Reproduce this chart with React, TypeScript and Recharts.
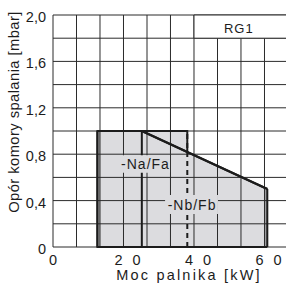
import React from 'react';
import {
  ComposedChart,
  Area,
  XAxis,
  YAxis,
  CartesianGrid,
  ReferenceLine,
  ReferenceArea,
  Label,
} from 'recharts';

const FONT = '"Liberation Sans", Arial, Helvetica, sans-serif';
const INK = '#1c1c1c';
const GRID = '#2b2b2b';
const FILL = '#dcdcdf';
const SHADE = '#9c9c9f';

// Burner power [kW] and combustion-chamber resistance [mbar]
const naFaPower = [12.6, 38.1];
const naFaResistance = [1.0, 1.0];
const nbFbPower = [25.2, 60.8];
const nbFbResistance = [1.0, 0.5];
const dashedPower = 38.1;

const xGridTicks = [0, 6.67, 13.33, 20, 26.67, 33.33, 40, 46.67, 53.33, 60, 66.67];
const xLabelTicks = [0, 20, 40, 60];
const yGridTicks = [0, 0.2, 0.4, 0.6, 0.8, 1.0, 1.2, 1.4, 1.6, 1.8, 2.0];
const yLabelTicks = [0, 0.4, 0.8, 1.2, 1.6, 2.0];
const xDomain = [0, 66.67];
const yDomain = [0, 2];

const nbFbData = nbFbPower.map((p, i) => ({ power: p, nbFb: nbFbResistance[i] }));

const near = (list: number[], v: number) => list.some((t) => Math.abs(t - v) < 0.01);

const XTick = (props: any) => {
  const { x, y, payload } = props;
  const v = payload.value;
  if (!near(xLabelTicks, v)) return <g />;
  const base = y + 10;
  if (v === 0) {
    return (
      <text x={x} y={base} textAnchor="middle" fontFamily={FONT} fontSize={14.5} fill={INK}>
        0
      </text>
    );
  }
  const chars = String(Math.round(v)).split('');
  return (
    <text x={x - 9} y={base} textAnchor="start" fontFamily={FONT} fontSize={14.5} fill={INK}>
      {chars.map((c, i) => (
        <tspan key={i} dx={i === 0 ? 0 : 10}>
          {c}
        </tspan>
      ))}
    </text>
  );
};

const YTick = (props: any) => {
  const { x, y, payload } = props;
  const v = payload.value;
  if (!near(yLabelTicks, v)) return <g />;
  const txt = v === 0 ? '0' : v.toFixed(1).replace('.', ',');
  return (
    <text x={x + 1} y={y + 7} textAnchor="end" fontFamily={FONT} fontSize={14.5} fill={INK}>
      {txt}
    </text>
  );
};

const centerLabel = (text: string, size: number, spacing: number) => (props: any) => {
  const vb = props.viewBox;
  if (!vb) return null;
  const cx = vb.x + vb.width / 2 + spacing / 2;
  const cy = vb.y + vb.height / 2;
  return (
    <text x={cx} y={cy} dy="0.36em" textAnchor="middle" fontFamily={FONT} fontSize={size} fill={INK} letterSpacing={spacing}>
      {text}
    </text>
  );
};

const rgLabel = (props: any) => {
  const vb = props.viewBox;
  if (!vb) return null;
  return (
    <text x={vb.x + 30} y={vb.y + vb.height / 2 + 1.4} dy="0.36em" textAnchor="start" fontFamily={FONT} fontSize={13} fill={INK} letterSpacing={1}>
      RG1
    </text>
  );
};

const yAxisTitle = (props: any) => {
  const vb = props.viewBox;
  if (!vb) return null;
  const x = vb.x + 14;
  const y = vb.y + 97;
  return (
    <text
      x={x}
      y={y}
      transform={`rotate(-90, ${x}, ${y})`}
      textAnchor="middle"
      dy="0.36em"
      fontFamily={FONT}
      fontSize={14.8}
      letterSpacing={0.4}
      fill={INK}
    >
      Opór komory spalania [mbar]
    </text>
  );
};

const xAxisTitle = (props: any) => {
  const vb = props.viewBox;
  if (!vb) return null;
  return (
    <text x={vb.x + 136} y={vb.y + 33} textAnchor="middle" fontFamily={FONT} fontSize={14.5} letterSpacing={2.2} fill={INK}>
      Moc palnika [kW]
    </text>
  );
};

export default function App() {
  return (
    <div style={{ position: 'absolute', left: 0, top: 0, width: 286, height: 284, overflow: 'hidden', background: '#fff' }}>
      <ComposedChart width={288} height={284} data={nbFbData} margin={{ top: 15, right: 0, bottom: 0, left: 0 }}>
        <XAxis
          dataKey="power"
          type="number"
          domain={xDomain}
          ticks={xGridTicks}
          interval={0}
          tick={<XTick />}
          tickLine={false}
          axisLine={false}
          height={37}
          allowDataOverflow
        >
          <Label content={xAxisTitle} />
        </XAxis>
        <YAxis
          type="number"
          domain={yDomain}
          ticks={yGridTicks}
          interval={0}
          tick={<YTick />}
          tickLine={false}
          axisLine={false}
          width={53}
          allowDataOverflow
        >
          <Label content={yAxisTitle} />
        </YAxis>

        <ReferenceArea
          x1={naFaPower[0]}
          x2={naFaPower[1]}
          y1={0}
          y2={naFaResistance[0]}
          fill={FILL}
          fillOpacity={1}
          stroke={INK}
          strokeWidth={2}
          zIndex={10}
        />
        <Area
          dataKey="nbFb"
          type="linear"
          baseValue={0}
          fill={FILL}
          fillOpacity={1}
          stroke={INK}
          strokeWidth={2}
          isAnimationActive={false}
          dot={false}
          activeDot={false}
          zIndex={30}
        />
        <ReferenceArea x1={naFaPower[0]} x2={naFaPower[0] + 0.7} y1={0} y2={naFaResistance[0]} fill={SHADE} fillOpacity={1} stroke="none" zIndex={35} />
        <ReferenceArea x1={nbFbPower[1] - 0.7} x2={nbFbPower[1]} y1={0} y2={nbFbResistance[1]} fill={SHADE} fillOpacity={1} stroke="none" zIndex={35} />

        <CartesianGrid stroke={GRID} strokeWidth={1} zIndex={40} />

        <ReferenceLine segment={[{ x: naFaPower[0], y: 0 }, { x: naFaPower[0], y: naFaResistance[0] }]} stroke={INK} strokeWidth={2} zIndex={60} />
        <ReferenceLine segment={[{ x: naFaPower[0], y: naFaResistance[0] }, { x: naFaPower[1], y: naFaResistance[1] }]} stroke={INK} strokeWidth={2} zIndex={60} />
        <ReferenceLine segment={[{ x: nbFbPower[0], y: 0 }, { x: nbFbPower[0], y: nbFbResistance[0] }]} stroke={INK} strokeWidth={2} zIndex={60} />
        <ReferenceLine segment={[{ x: nbFbPower[1], y: 0 }, { x: nbFbPower[1], y: nbFbResistance[1] }]} stroke={INK} strokeWidth={2} zIndex={60} />
        <ReferenceLine segment={[{ x: naFaPower[0], y: 0 }, { x: nbFbPower[1], y: 0 }]} stroke={INK} strokeWidth={2.2} zIndex={60} />
        <ReferenceLine segment={[{ x: nbFbPower[0], y: nbFbResistance[0] }, { x: nbFbPower[1], y: nbFbResistance[1] }]} stroke={INK} strokeWidth={2} zIndex={60} />
        <ReferenceLine
          segment={[{ x: dashedPower, y: 0 }, { x: dashedPower, y: naFaResistance[1] }]}
          stroke={INK}
          strokeWidth={2}
          strokeDasharray="5 4"
          zIndex={60}
        />

        <ReferenceArea x1={19.0} x2={33.2} y1={0.64} y2={0.79} fill={FILL} fillOpacity={1} stroke="none" zIndex={80}>
          <Label content={centerLabel('-Na/Fa', 14, 1)} />
        </ReferenceArea>
        <ReferenceArea x1={31.8} x2={46.8} y1={0.284} y2={0.448} fill={FILL} fillOpacity={1} stroke="none" zIndex={80}>
          <Label content={centerLabel('-Nb/Fb', 14, 1)} />
        </ReferenceArea>
        <ReferenceArea x1={40} x2={66.67} y1={1.8} y2={2.0} fill="#fff" fillOpacity={1} stroke={GRID} strokeWidth={1} zIndex={80}>
          <Label content={rgLabel} />
        </ReferenceArea>
      </ComposedChart>
    </div>
  );
}
